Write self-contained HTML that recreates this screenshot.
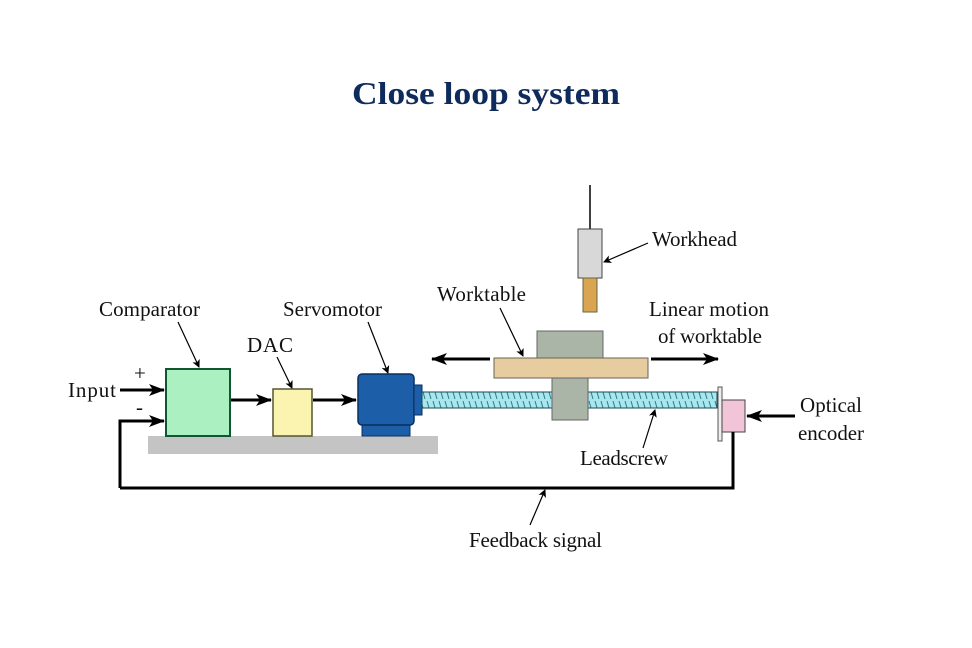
<!DOCTYPE html>
<html><head><meta charset="utf-8"><style>body{margin:0;background:#fff}svg{display:block}</style></head><body>
<svg width="972" height="648" viewBox="0 0 972 648" xmlns="http://www.w3.org/2000/svg">
<defs><marker id="a" markerWidth="8" markerHeight="8" refX="7" refY="4" orient="auto" markerUnits="userSpaceOnUse"><path d="M0,0 L8,4 L0,8 L2,4 Z" fill="#000"/></marker>
<marker id="b" markerWidth="16" markerHeight="12" refX="15" refY="6" orient="auto" markerUnits="userSpaceOnUse"><path d="M0,0 L16,6 L0,12 L4,6 Z" fill="#000"/></marker>
<pattern id="s" width="6" height="16" patternUnits="userSpaceOnUse"><rect width="6" height="16" fill="#a9e6ee"/><path d="M1,1 L5,15" stroke="#2a7f8c" stroke-width="1"/></pattern></defs>
<text x="352" y="104" font-family="Liberation Serif,serif" font-weight="bold" font-size="32" fill="#0f2a5c" textLength="268" lengthAdjust="spacingAndGlyphs">Close loop system</text>
<g font-family="Liberation Serif,serif" font-size="21" fill="#111" lengthAdjust="spacingAndGlyphs">
<text x="99" y="316" textLength="101">Comparator</text>
<text x="283" y="316" textLength="99">Servomotor</text>
<text x="247" y="352" textLength="46">DAC</text>
<text x="68" y="397" textLength="48">Input</text>
<text x="134" y="380">+</text>
<text x="136" y="414">-</text>
<text x="437" y="301" textLength="89">Worktable</text>
<text x="652" y="246" textLength="85">Workhead</text>
<text x="649" y="316" textLength="120">Linear motion</text>
<text x="658" y="343" textLength="104">of worktable</text>
<text x="580" y="465" textLength="88">Leadscrew</text>
<text x="800" y="412" textLength="62">Optical</text>
<text x="798" y="440" textLength="66">encoder</text>
<text x="469" y="547" textLength="133">Feedback signal</text>
</g>
<rect x="148" y="436" width="290" height="18" fill="#c4c4c4"/>
<rect x="166" y="369" width="64" height="67" fill="#aaf0c0" stroke="#153" stroke-width="2"/>
<rect x="273" y="389" width="39" height="47" fill="#fbf3b0" stroke="#553" stroke-width="1.5"/>
<rect x="362" y="420" width="48" height="16" fill="#1d5ea8" stroke="#0a2f60"/>
<rect x="358" y="374" width="56" height="51" rx="4" fill="#1d5ea8" stroke="#0a2f60" stroke-width="1.5"/>
<rect x="414" y="385" width="8" height="30" fill="#1d5ea8" stroke="#0a2f60"/>
<rect x="422" y="392" width="295" height="16" fill="url(#s)" stroke="#1a4a50"/>
<rect x="537" y="331" width="66" height="27" fill="#aab5a8" stroke="#666"/>
<rect x="494" y="358" width="154" height="20" fill="#e6cc9e" stroke="#665"/>
<rect x="552" y="378" width="36" height="42" fill="#aab5a8" stroke="#666"/>
<rect x="718" y="387" width="4" height="54" fill="#eee" stroke="#555"/>
<rect x="722" y="400" width="23" height="32" fill="#f1c4d8" stroke="#444"/>
<line x1="590" y1="185" x2="590" y2="229" stroke="#000" stroke-width="1.5"/>
<rect x="578" y="229" width="24" height="49" fill="#d8d8d8" stroke="#444"/>
<rect x="583" y="278" width="14" height="34" fill="#d9a550" stroke="#664"/>
<g stroke="#000" stroke-width="3" fill="none">
<line x1="120" y1="390" x2="164" y2="390" marker-end="url(#b)"/>
<polyline points="120,488 120,421 164,421" marker-end="url(#b)"/>
<line x1="231" y1="400" x2="271" y2="400" marker-end="url(#b)"/>
<line x1="313" y1="400" x2="356" y2="400" marker-end="url(#b)"/>
<line x1="490" y1="359" x2="432" y2="359" marker-end="url(#b)"/>
<line x1="651" y1="359" x2="718" y2="359" marker-end="url(#b)"/>
<line x1="795" y1="416" x2="747" y2="416" marker-end="url(#b)"/>
<polyline points="733,432 733,488 120,488"/>
</g>
<g stroke="#000" stroke-width="1.2">
<line x1="178" y1="322" x2="199" y2="367" marker-end="url(#a)"/>
<line x1="368" y1="322" x2="388" y2="373" marker-end="url(#a)"/>
<line x1="277" y1="357" x2="292" y2="388" marker-end="url(#a)"/>
<line x1="500" y1="308" x2="523" y2="356" marker-end="url(#a)"/>
<line x1="648" y1="243" x2="604" y2="262" marker-end="url(#a)"/>
<line x1="643" y1="448" x2="655" y2="410" marker-end="url(#a)"/>
<line x1="530" y1="525" x2="545" y2="490" marker-end="url(#a)"/>
</g>
</svg>
</body></html>
